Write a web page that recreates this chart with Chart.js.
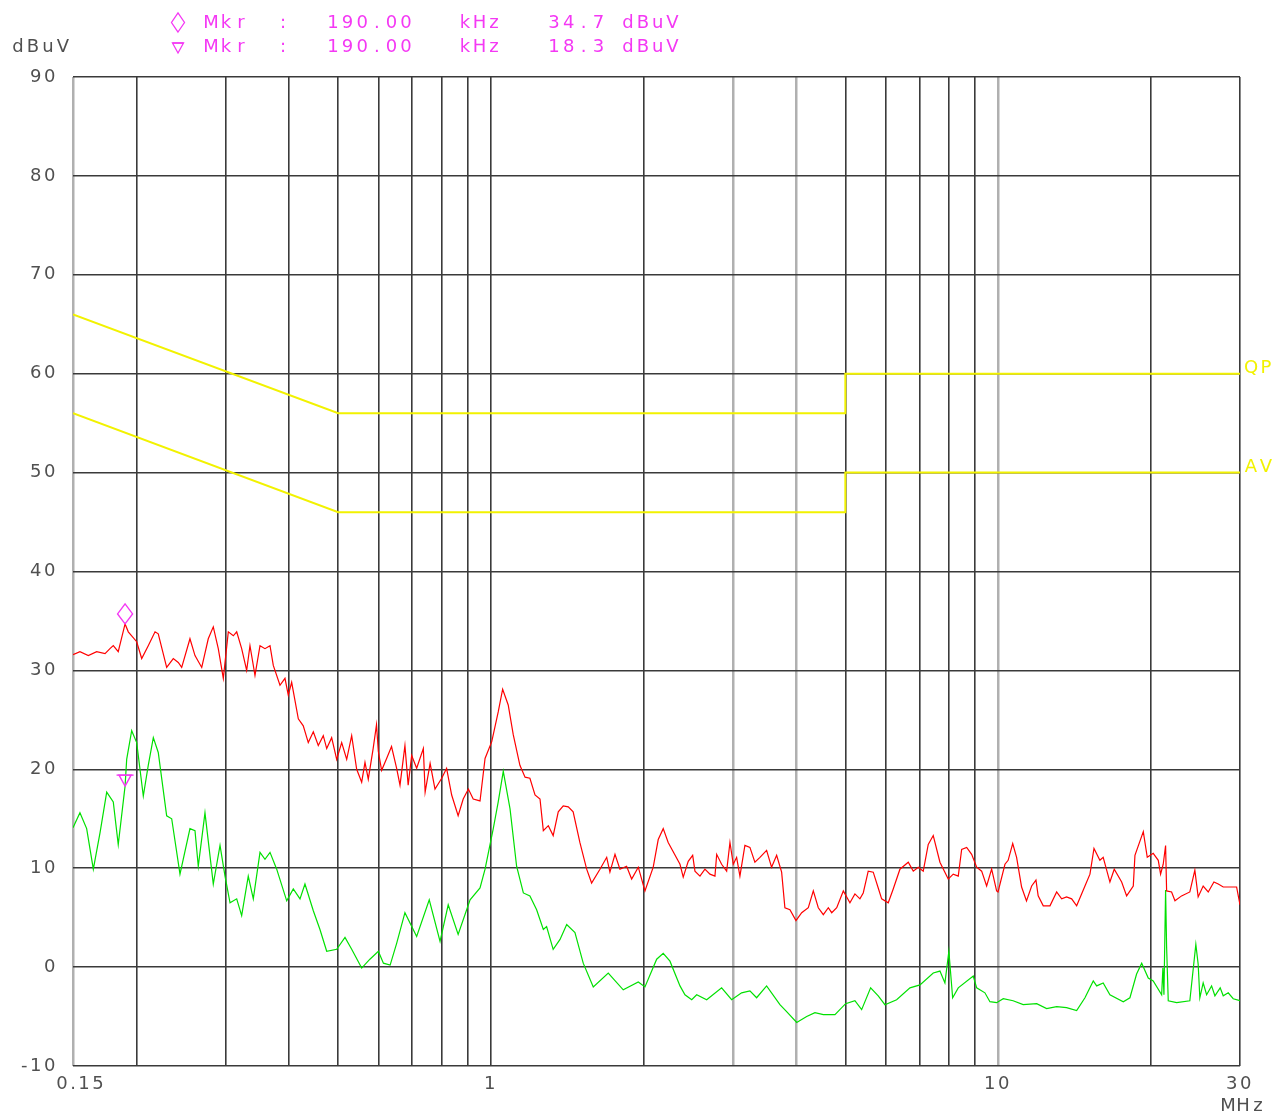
<!DOCTYPE html>
<html>
<head>
<meta charset="utf-8">
<title>Conducted emission scan 0.15 - 30 MHz</title>
<script src="https://cdn.jsdelivr.net/npm/chart.js@4.4.1/dist/chart.umd.min.js"></script>
<style>
  html, body { margin: 0; padding: 0; background: #fff; }
  #wrap { width: 1286px; height: 1116px; }
</style>
</head>
<body>
<div id="wrap"><canvas id="scan" width="1286" height="1116"></canvas></div>
<script>
// ---- axis ticks ----
const freqTicks = [0.15, 0.2, 0.3, 0.4, 0.5, 0.6, 0.7, 0.8, 0.9, 1, 2, 3, 4, 5, 6, 7, 8, 9, 10, 20, 30];
const freqTickLabels = { 0.15: '  0.15', 1: '1', 10: '10', 30: '30' };
const levelTicks = [-10, 0, 10, 20, 30, 40, 50, 60, 70, 80, 90];
const lightGridFreqs = [0.15, 3, 4, 10];

// ---- peak detector trace (MHz / dBuV) ----
const peakFreq = [
  0.150, 0.1548, 0.1608, 0.1670, 0.1735, 0.1774, 0.1801, 0.1842, 0.190, 0.1928,
  0.2003, 0.2049, 0.2111, 0.2177, 0.2209, 0.2295, 0.2365, 0.2419, 0.2457, 0.2551,
  0.2610, 0.2691, 0.2772, 0.2836, 0.2901, 0.2968, 0.3036, 0.3106, 0.3154, 0.3226,
  0.3300, 0.3350, 0.3427, 0.3506, 0.3586, 0.3669, 0.3724, 0.3839, 0.3927, 0.3986,
  0.4048, 0.4172, 0.4267, 0.4365, 0.4466, 0.4568, 0.4673, 0.4746, 0.4854, 0.4966,
  0.5080, 0.5197, 0.5316, 0.5438, 0.5563, 0.5647, 0.5732, 0.586, 0.595, 0.600,
  0.609, 0.623, 0.637, 0.652, 0.662, 0.677, 0.687, 0.698, 0.714, 0.736,
  0.742, 0.759, 0.776, 0.800, 0.818, 0.837, 0.862, 0.882, 0.903, 0.923,
  0.952, 0.974, 1.004, 1.034, 1.055, 1.082, 1.107, 1.141, 1.168, 1.194,
  1.222, 1.250, 1.269, 1.298, 1.327, 1.358, 1.389, 1.421, 1.453, 1.498,
  1.545, 1.580, 1.641, 1.692, 1.717, 1.757, 1.797, 1.852, 1.895, 1.953,
  2.013, 2.090, 2.138, 2.187, 2.237, 2.360, 2.395, 2.450, 2.500, 2.526,
  2.584, 2.643, 2.704, 2.766, 2.788, 2.851, 2.917, 2.961, 3.006, 3.052,
  3.098, 3.169, 3.242, 3.316, 3.393, 3.497, 3.577, 3.660, 3.744, 3.800,
  3.888, 3.996, 4.101, 4.226, 4.323, 4.422, 4.524, 4.628, 4.700, 4.808,
  4.954, 5.105, 5.222, 5.342, 5.423, 5.547, 5.675, 5.805, 5.896, 6.075,
  6.214, 6.406, 6.653, 6.806, 6.962, 7.121, 7.285, 7.452, 7.682, 7.977,
  8.160, 8.348, 8.478, 8.673, 8.872, 9.076, 9.284, 9.496, 9.714, 9.937,
  10.00, 10.32, 10.47, 10.69, 10.88, 11.13, 11.38, 11.65, 11.88, 12.00,
  12.28, 12.66, 13.05, 13.35, 13.65, 13.97, 14.29, 14.84, 15.18, 15.46,
  15.88, 16.12, 16.62, 16.95, 17.53, 17.93, 18.48, 18.62, 19.34, 19.69,
  20.23, 20.70, 20.92, 21.17, 21.40, 21.50, 21.99, 22.33, 23.01, 23.89,
  24.44, 24.81, 25.38, 25.97, 26.65, 27.18, 27.80, 29.54, 30.0
];
const peakLevel = [
  31.6, 31.9, 31.5, 31.9, 31.7, 32.2, 32.5, 31.9, 34.7, 33.9,
  32.9, 31.2, 32.5, 33.9, 33.7, 30.3, 31.2, 30.8, 30.3, 33.2,
  31.5, 30.3, 33.2, 34.4, 32.2, 29.2, 33.9, 33.5, 33.9, 32.2,
  30.0, 32.5, 29.5, 32.5, 32.2, 32.5, 30.5, 28.5, 29.2, 27.5,
  28.8, 25.1, 24.4, 22.7, 23.8, 22.4, 23.4, 22.1, 23.2, 21.0,
  22.7, 21.0, 23.4, 20.0, 18.7, 20.7, 19.0, 22.1, 24.5, 21.8,
  19.9, 21.1, 22.3, 20.1, 18.4, 22.4, 18.4, 21.4, 20.1, 22.1,
  17.7, 20.6, 18.0, 19.1, 20.1, 17.4, 15.3, 17.0, 18.0, 17.0,
  16.8, 21.1, 22.8, 25.8, 28.1, 26.5, 23.5, 20.4, 19.2, 19.1,
  17.4, 17.0, 13.8, 14.3, 13.3, 15.7, 16.3, 16.2, 15.7, 12.6,
  9.9, 8.5, 9.9, 11.1, 9.6, 11.4, 9.9, 10.2, 8.9, 10.1,
  7.7, 10.1, 12.9, 14.0, 12.6, 10.4, 9.1, 10.7, 11.3, 9.7,
  9.2, 9.9, 9.4, 9.2, 11.4, 10.4, 9.7, 12.6, 10.4, 11.1,
  9.2, 12.3, 12.1, 10.6, 11.1, 11.8, 10.1, 11.3, 9.6, 6.0,
  5.8, 4.7, 5.5, 6.0, 7.7, 6.0, 5.3, 6.0, 5.5, 6.0,
  7.7, 6.5, 7.4, 6.9, 7.5, 9.7, 9.6, 8.0, 6.9, 6.5,
  7.9, 9.9, 10.6, 9.7, 10.1, 9.7, 12.4, 13.3, 10.6, 8.9,
  9.4, 9.2, 11.9, 12.1, 11.4, 10.1, 9.7, 8.2, 9.9, 7.7,
  7.6, 10.4, 10.8, 12.5, 11.1, 8.1, 6.7, 8.2, 8.8, 7.2,
  6.2, 6.2, 7.6, 6.9, 7.1, 6.9, 6.2, 8.2, 9.4, 12.0,
  10.8, 11.1, 8.6, 9.9, 8.6, 7.2, 8.2, 11.3, 13.7, 11.1,
  11.5, 10.8, 9.4, 10.4, 12.3, 7.7, 7.6, 6.7, 7.2, 7.6,
  9.8, 7.1, 8.2, 7.6, 8.6, 8.4, 8.1, 8.1, 6.3
];

// ---- average detector trace (MHz / dBuV) ----
const avgFreq = [
  0.150, 0.1548, 0.1596, 0.1645, 0.1696, 0.1748, 0.1801, 0.1842, 0.190, 0.1914,
  0.1958, 0.2003, 0.2064, 0.2111, 0.2160, 0.2209, 0.2295, 0.2348, 0.2438, 0.2551,
  0.2610, 0.2649, 0.2731, 0.2836, 0.2924, 0.2991, 0.3060, 0.3154, 0.3226, 0.3324,
  0.3401, 0.3506, 0.3586, 0.3669, 0.3782, 0.3958, 0.4078, 0.4204, 0.4300, 0.4466,
  0.4603, 0.4746, 0.4966, 0.5157, 0.5316, 0.5563, 0.5775, 0.600, 0.614, 0.633,
  0.652, 0.677, 0.714, 0.756, 0.794, 0.824, 0.862, 0.910, 0.952, 0.974,
  1.011, 1.034, 1.058, 1.091, 1.124, 1.159, 1.194, 1.231, 1.269, 1.288,
  1.327, 1.369, 1.411, 1.465, 1.521, 1.592, 1.704, 1.824, 1.953, 2.013,
  2.123, 2.187, 2.255, 2.360, 2.414, 2.489, 2.546, 2.664, 2.851, 2.984,
  3.122, 3.242, 3.342, 3.497, 3.715, 3.830, 4.009, 4.195, 4.355, 4.524,
  4.770, 5.006, 5.222, 5.384, 5.608, 5.805, 5.984, 6.311, 6.705, 7.017,
  7.452, 7.682, 7.858, 8.000, 8.138, 8.348, 8.936, 9.076, 9.423, 9.639,
  9.937, 10.24, 10.71, 11.21, 11.92, 12.47, 13.05, 13.65, 14.29, 14.84,
  15.41, 15.65, 16.12, 16.62, 17.66, 18.20, 18.76, 19.20, 19.78, 20.23,
  21.02, 21.14, 21.24, 21.40, 21.50, 21.66, 22.50, 23.89, 24.55, 24.81,
  25.00, 25.38, 25.78, 26.37, 26.77, 27.42, 27.80, 28.44, 29.09, 30.0
];
const avgLevel = [
  14.1, 15.6, 14.0, 9.9, 13.6, 17.7, 16.7, 12.4, 18.3, 21.0,
  23.9, 22.7, 17.3, 20.4, 23.2, 21.7, 15.3, 15.0, 9.4, 14.0,
  13.8, 10.2, 15.6, 8.4, 12.3, 9.2, 6.5, 6.9, 5.2, 9.2,
  6.9, 11.6, 10.9, 11.6, 9.9, 6.7, 7.9, 6.9, 8.4, 5.7,
  3.8, 1.6, 1.8, 3.0, 1.8, -0.1, 0.8, 1.6, 0.4, 0.2,
  2.4, 5.5, 3.1, 6.8, 2.6, 6.3, 3.3, 6.8, 8.0, 9.9,
  14.0, 16.7, 19.8, 16.0, 10.2, 7.5, 7.2, 5.8, 3.8, 4.1,
  1.8, 2.8, 4.3, 3.5, 0.4, -2.0, -0.6, -2.3, -1.5, -2.0,
  0.8, 1.4, 0.6, -1.9, -2.8, -3.3, -2.8, -3.3, -2.1, -3.3,
  -2.6, -2.4, -3.1, -1.9, -3.8, -4.5, -5.6, -5.0, -4.6, -4.8,
  -4.8, -3.7, -3.4, -4.3, -2.1, -2.9, -3.8, -3.3, -2.1, -1.8,
  -0.6, -0.4, -1.6, 1.6, -3.1, -2.1, -0.9, -2.1, -2.6, -3.5,
  -3.6, -3.2, -3.4, -3.8, -3.7, -4.2, -4.0, -4.1, -4.4, -3.1,
  -1.4, -1.9, -1.6, -2.8, -3.5, -3.1, -0.7, 0.4, -1.1, -1.4,
  -2.8, -0.1, -2.8, 7.8, 2.0, -3.4, -3.6, -3.4, 2.3, 0.3,
  -3.1, -1.6, -2.8, -1.9, -2.9, -2.1, -2.9, -2.6, -3.2, -3.4
];

// ---- limit lines (quasi-peak and average) ----
const limitFreq = [0.15, 0.5, 5, 5, 30];
const qpLimit = [66, 56, 56, 60, 60];
const avLimit = [56, 46, 46, 50, 50];

// ---- markers ----
const markerFreq = 0.19;   // MHz
const markerPeak = 34.7;   // dBuV on peak trace
const markerAvg = 18.3;    // dBuV on average trace

const toPoints = (xs, ys) => xs.map((x, i) => ({ x: x, y: ys[i] }));

const FONT = '"DejaVu Sans", "Liberation Sans", sans-serif';
const MAGENTA = '#f438f4';
const YELLOW = '#f2f200';
const LABEL = '#505050';

// draws a string on a fixed character grid, each glyph centred in its cell
function pitchedText(ctx, str, x, y, pitch) {
  ctx.textAlign = 'center';
  for (let i = 0; i < str.length; i++) ctx.fillText(str[i], x + 6 + i * pitch, y);
  ctx.textAlign = 'left';
}
function diamond(ctx, cx, bottom, w, h) {
  ctx.beginPath();
  ctx.moveTo(cx, bottom);
  ctx.lineTo(cx + w / 2, bottom - h / 2);
  ctx.lineTo(cx, bottom - h);
  ctx.lineTo(cx - w / 2, bottom - h / 2);
  ctx.closePath();
  ctx.stroke();
}
function downTriangle(ctx, cx, tip, w, h, bar) {
  ctx.beginPath();
  ctx.moveTo(cx, tip);
  ctx.lineTo(cx + w / 2, tip - h);
  ctx.lineTo(cx - w / 2, tip - h);
  ctx.closePath();
  ctx.stroke();
  ctx.beginPath();
  ctx.moveTo(cx - bar / 2, tip - h);
  ctx.lineTo(cx + bar / 2, tip - h);
  ctx.stroke();
}

const decorations = {
  id: 'decorations',
  beforeDraw(chart) {
    chart.ctx.letterSpacing = '2.5px';
  },
  afterDatasetsDraw(chart) {
    const ctx = chart.ctx;
    const xs = chart.scales.x, ys = chart.scales.y;
    const mx = xs.getPixelForValue(markerFreq);
    ctx.save();
    ctx.strokeStyle = MAGENTA;
    ctx.lineWidth = 1.4;
    diamond(ctx, mx, ys.getPixelForValue(markerPeak), 15, 20);
    downTriangle(ctx, mx, ys.getPixelForValue(markerAvg), 12, 11, 17);
    ctx.restore();
  },
  afterDraw(chart) {
    const ctx = chart.ctx;
    const ys = chart.scales.y;
    const area = chart.chartArea;
    ctx.save();
    ctx.letterSpacing = '0px';
    ctx.font = '18px ' + FONT;
    ctx.textBaseline = 'middle';

    // marker readout
    ctx.fillStyle = MAGENTA;
    const kHz = (markerFreq * 1000).toFixed(2);
    const rows = [[markerPeak, 23], [markerAvg, 47]];
    rows.forEach(([val, y]) => {
      pitchedText(ctx, 'Mkr', 205, y, 15);
      pitchedText(ctx, ':', 277, y, 15);
      pitchedText(ctx, kHz, 327, y, 14.6);
      pitchedText(ctx, 'kHz', 459, y, 14.5);
      pitchedText(ctx, val.toFixed(1) + ' dBuV', 548, y, 14.8);
    });
    ctx.strokeStyle = MAGENTA;
    ctx.lineWidth = 1.3;
    diamond(ctx, 178, 32, 13, 19);
    downTriangle(ctx, 178, 53, 11, 10, 11);

    // unit labels
    ctx.fillStyle = LABEL;
    pitchedText(ctx, 'dBuV', 12, 47, 15);
    pitchedText(ctx, 'MHz', 1222, 1106, 15);

    // limit line names
    ctx.fillStyle = YELLOW;
    pitchedText(ctx, 'QP', area.right + 5, ys.getPixelForValue(60) - 5, 15);
    pitchedText(ctx, 'AV', area.right + 5, ys.getPixelForValue(50) - 5, 15);
    ctx.restore();
    ctx.letterSpacing = '0px';
  }
};

const gridColor = (c) => (c.tick && lightGridFreqs.includes(c.tick.value)) ? '#b0b0b0' : '#3a3a3a';
const gridWidth = (c) => (c.tick && lightGridFreqs.includes(c.tick.value)) ? 2.5 : 1.6;

new Chart(document.getElementById('scan'), {
  type: 'line',
  data: {
    datasets: [
      { label: 'Average', data: toPoints(avgFreq, avgLevel), borderColor: '#00e000', borderWidth: 1.2 },
      { label: 'Peak', data: toPoints(peakFreq, peakLevel), borderColor: '#ff0000', borderWidth: 1.2 },
      { label: 'QP', data: toPoints(limitFreq, qpLimit), borderColor: YELLOW, borderWidth: 2 },
      { label: 'AV', data: toPoints(limitFreq, avLimit), borderColor: YELLOW, borderWidth: 2 }
    ]
  },
  options: {
    responsive: false,
    animation: false,
    devicePixelRatio: 1,
    parsing: false,
    elements: { point: { radius: 0 }, line: { tension: 0 } },
    layout: { padding: { left: 0, top: 77, right: 46, bottom: 0 } },
    plugins: { legend: { display: false }, tooltip: { enabled: false } },
    scales: {
      x: {
        type: 'logarithmic',
        position: 'bottom',
        min: 0.15,
        max: 30,
        afterBuildTicks: (s) => { s.ticks = freqTicks.map(v => ({ value: v })); },
        afterFit: (s) => { s.height = 50; },
        border: { display: false },
        grid: { color: gridColor, lineWidth: gridWidth, drawTicks: false },
        ticks: {
          autoSkip: false, maxRotation: 0, minRotation: 0, padding: 8,
          color: LABEL, font: { family: FONT, size: 18 },
          callback: (v) => (freqTickLabels[v] !== undefined ? freqTickLabels[v] : '')
        }
      },
      y: {
        type: 'linear',
        min: -10,
        max: 90,
        afterBuildTicks: (s) => { s.ticks = levelTicks.map(v => ({ value: v })); },
        afterFit: (s) => { s.width = 73; },
        border: { display: false },
        grid: { color: '#3a3a3a', lineWidth: 1.6, drawTicks: false },
        ticks: { padding: 15, color: LABEL, font: { family: FONT, size: 18 } }
      }
    }
  },
  plugins: [decorations]
});
</script>
</body>
</html>
